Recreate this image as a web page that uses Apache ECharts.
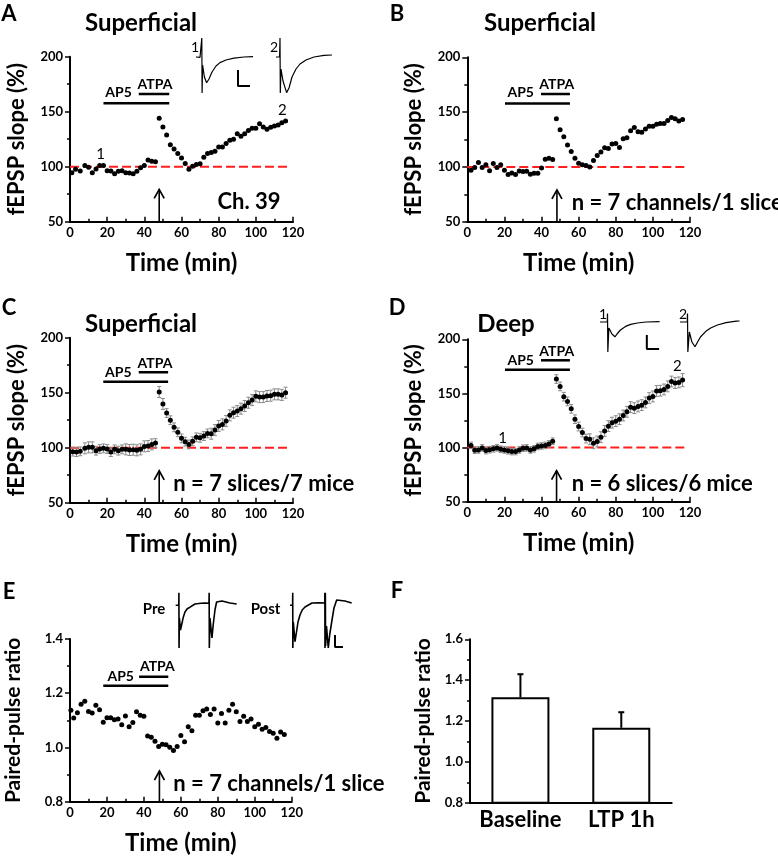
<!DOCTYPE html>
<html><head><meta charset="utf-8">
<script src="https://cdn.jsdelivr.net/npm/echarts@6/dist/echarts.min.js"></script>
<style>html,body{margin:0;padding:0;background:#fff}#c{width:778px;height:863px}</style>
</head><body><div id="c"></div>
<script>
// ---------------- DATA ----------------
const postT = [48,50,52,54,56,58,60,62,64,66,68,70,72,74,76,78,80,82,84,86,88,90,92,94,96,98,100,102,104,106,108,110,112,114,116];
const baseT_A = [1,3,5.5,8,10,12,14,16,18,20,22,24,26,28,30,32,34,36,38,40,42,44,46];
const baseT_even = [2,4,6,8,10,12,14,16,18,20,22,24,26,28,30,32,34,36,38,40,42,44,46];
const baseT_C = [1.5,3.5,5.5,8,10,12,14,16,18,20,22,24,26,28,30,32,34,36,38,40,42,44,46];
const timeE = [0.5,2,4,6,8,10,12,14,16,18,20,22,24,26,28,30,32,34,36,38,40,42,44,46,48,50,52,54,56,58,60,62,64,66,68,70,72,74,76,78,80,82,84,86,88,90,92,94,96,98,100,102,104,106,108,110,112,114,116];

const baseA = [94.5,97.6,96,101,99.4,94.5,98,101,101,96.4,96,93.6,95.8,96.4,94.5,94.2,93.6,95.8,99,101,106,105,104.5];
const postA = [144,136,128.8,120,116,112,108,103,97.6,100.3,102,102.7,108.5,112,113,114,118,118,121,124,125,130,127.6,130,133,135,135,139,136,134,135.8,137,138,140,141.5];

const baseB = [97,99.4,104,99.4,102,96.6,103,99.4,102,97,93,94.5,93,96.3,95.7,96,93.3,94.2,94.2,99,107,108,106.7];
const postB = [144,134,127.4,120,114,108,103.4,102,101.2,100,105.8,110.4,113.7,117.4,116.8,121,121.3,117.7,125.6,126.5,133,136,132,131.7,134.5,137,137,139,139.6,139.6,142.4,145,144,141.8,143.3];

const baseC = [96.4,96,96.7,99.4,100.3,100.3,97.3,98.8,99.4,98.8,96,98.5,97.3,98.5,98.5,97.9,98.2,97.6,98.5,101.2,101.5,103,104.2];
const postC = [150.6,139.7,131.5,125,118.5,114,108.5,105.5,103,105.8,109.4,109,110.6,113,112.7,116,119.7,121.2,124.2,129.4,131.8,133.3,135.5,137.9,140.9,143.3,146.7,146,146,147,147.3,148.5,148.5,148,150];
const errBaseC = [4,4,4,5,5,5,4,4,4,4,4,4,4,4,5,5,5,5,5,5,5,5,4];
const errPostC = [5,5,4,4,4,4,4,4,4,4,4,4,4,4,5,5,5,5,5,5,5,5,5,5,5,5,5,5,5,5,5,5,5,5,5];

const baseD = [102,97.5,97.8,99.7,97.2,98,98.8,99.7,98.5,97.8,97,96.3,96.3,97.8,99.4,99.7,97.8,98.8,101,101.5,102,103.4,105.9];
const postD = [163.3,156.5,147,142.6,135.8,126.2,119.4,113.9,108.3,107.7,104,105.6,109.6,115.4,119.8,123,124.4,126.2,129.6,133,137.3,136.4,138,139.2,141.7,145.7,147.2,152.2,152.5,153.7,156.5,161,159.6,160.2,162.3];
const errBaseD = [3,3,3,3,3,3,3,3,3,3,3,3,3,3,3,3,3,3,3,3,3,3,3];
const errPostD = [4,4,4,4,4,4,4,4,4,5,5,5,5,5,5,5,5,5,5,5,5,5,5,5,5,5,5,5,5,5,5,5,5,5,6];

const ppr = [1.137,1.109,1.128,1.159,1.170,1.133,1.127,1.156,1.139,1.093,1.110,1.110,1.102,1.105,1.084,1.116,1.076,1.092,1.132,1.119,1.115,1.042,1.038,1.023,1.004,1.012,1.010,1.001,0.989,1.004,1.044,1.021,1.076,1.062,1.119,1.119,1.135,1.142,1.122,1.142,1.090,1.125,1.090,1.137,1.159,1.132,1.096,1.115,1.096,1.105,1.076,1.086,1.067,1.074,1.059,1.052,1.034,1.057,1.048];

const barCats = ['Baseline','LTP 1h'];
const barVals = [1.316,1.167];
const barErr = [0.113,0.076];

// drug application bars [start, end, level] per panel
const ap5 = {A:[18,53.4,157.6], B:[20.3,55.3,157.9], C:[17.9,52.8,160], D:[20.3,55.3,171.9], E:[18,53.2,1.228]};
const atpa = {A:[37,53.4,166], B:[39.7,55.3,166.5], C:[37,52.8,168.5], D:[39.7,55.3,180.6], E:[37.4,53.2,1.261]};
const arrowT = {A:[48,50,79.4], B:[48.3,50,79], C:[48,50,79], D:[48.1,50,78.7], E:[48.4,0.8,0.913]};

// inset traces: [ms, mV]
const traceA1 = [[0,0],[1,0.03],[2,-0.02],[2.8,0],[2.9,0.95],[3.05,-1.8],[3.3,-0.4],[4.2,-1.0],[5.3,-1.29],[6.5,-1.1],[8,-0.75],[10,-0.45],[12,-0.28],[15,-0.15],[19,-0.06],[24,0],[28.5,0.02]];
const traceA2 = [[0,0],[1,0.02],[1.8,0],[2,0.95],[2.15,-1.8],[2.5,-0.6],[3.5,-1.2],[5.3,-1.78],[6.5,-1.55],[8,-1.0],[10,-0.6],[12,-0.35],[15,-0.15],[19,0.0],[24,0.08],[28,0.1]];
const traceD1 = [[0,0],[4.3,0],[4.4,0.6],[4.6,-1.5],[5.2,-0.3],[7,-0.6],[8.8,-0.74],[10,-0.6],[12,-0.4],[15,-0.22],[18,-0.12],[22,-0.05],[27,0],[35,0.02]];
const traceD2 = [[0,0],[4.3,0],[4.4,0.6],[4.6,-1.5],[5.5,-0.5],[7,-1.0],[8.8,-1.24],[10,-1.05],[12,-0.75],[15,-0.48],[18,-0.3],[22,-0.15],[27,-0.03],[33,0.04],[35,0.05]];
const tracePre = [[2.8,0.02],[8.0,0.02],[8.2,0.33],[8.4,-1.05],[9.0,-0.3],[10.8,-0.6],[13,-0.45],[15.5,-0.28],[18.3,-0.15],[22,-0.07],[26.7,-0.03],[35,0.05],[45,0.07],[51.7,0.075],[58.3,0.07],[58.6,0.33],[58.9,-1.05],[60,-0.3],[63.3,-0.8],[65.5,-0.45],[68.3,-0.1],[71,0.1],[73.3,0.15],[80,0.125],[93.3,0.075],[104.5,0.05]];
const tracePost = [[1.7,0.02],[6.0,0.02],[6.2,0.33],[6.4,-1.05],[7.2,-0.4],[10,-0.89],[12.5,-0.65],[15,-0.4],[18.3,-0.225],[22,-0.1],[26.7,-0.025],[38.3,0.075],[50,0.08],[59.6,0.075],[59.8,0.33],[60.0,-1.05],[60.6,0.33],[61,-1.0],[62.5,-0.5],[65.5,-1.05],[68,-0.7],[71.7,-0.35],[75,-0.05],[79.5,0.15],[93.3,0.125],[104.5,0.075]];
const scaleA = [[21,-0.65],[21,-1.45],[27,-1.45]];
const scaleD = [[27.5,-0.65],[27.5,-1.35],[34.7,-1.35]];
const scaleE = [[76.7,-0.725],[76.7,-1.025],[90,-1.025]];

// ---------------- CHART ----------------
const FONT = 'Lato, "Open Sans", sans-serif';
const chart = echarts.init(document.getElementById('c'), null, {renderer:'canvas'});

const grids = [
  {left:70, top:56.7, width:223, height:165},      //0 A
  {left:467.3, top:57.3, width:222.7, height:164.4},//1 B
  {left:70, top:337.7, width:223, height:165},     //2 C
  {left:467.3, top:339.3, width:222.7, height:162.4},//3 D
  {left:70, top:639, width:221.7, height:162.7},   //4 E
  {left:470, top:639.3, width:201.7, height:163.4},//5 F
  {left:196, top:38, width:58, height:56},         //6 A inset1
  {left:276, top:38, width:58, height:56},         //7 A inset2
  {left:600, top:314, width:63, height:40},        //8 D inset1
  {left:680, top:314, width:63, height:40},        //9 D inset2
  {left:174, top:592, width:64, height:58},        //10 E pre
  {left:289, top:592, width:64, height:58}         //11 E post
].map(g => Object.assign({outerBoundsMode:'none', containLabel:false}, g));

const txt = (size, weight) => ({color:'#000', fontFamily:FONT, fontWeight:weight||'bold', fontSize:size});

function xMain(gi, extra) {
  return Object.assign({
    type:'value', gridIndex:gi, min:0, max:120, interval:20,
    axisLine:{show:true, onZero:false, lineStyle:{color:'#000', width:2}},
    axisTick:{show:true, inside:true, length:5, lineStyle:{color:'#000', width:1.5}},
    minorTick:{show:true, splitNumber:2, length:3, lineStyle:{color:'#000', width:1.5}},
    axisLabel:Object.assign({margin:5}, txt(13)),
    splitLine:{show:false},
    name:'Time (min)', nameLocation:'middle', nameGap:30,
    nameTextStyle:txt(24)
  }, extra||{});
}
function yMain(gi, min, max, interval, name, nameGap, nameSize, fmt) {
  return {
    type:'value', gridIndex:gi, min:min, max:max, interval:interval,
    axisLine:{show:true, onZero:false, lineStyle:{color:'#000', width:2}},
    axisTick:{show:true, inside:false, length:5, lineStyle:{color:'#000', width:1.5}},
    minorTick:{show:true, splitNumber:2, length:3, lineStyle:{color:'#000', width:1.5}},
    axisLabel:Object.assign({margin:7, formatter:fmt}, txt(13)),
    splitLine:{show:false}, minorSplitLine:{show:false},
    name:name, nameLocation:'middle', nameGap:nameGap, nameRotate:90,
    nameTextStyle:txt(nameSize)
  };
}
function hiddenAxis(gi, min, max) { return {type:'value', gridIndex:gi, min:min, max:max, show:false}; }

const xAxes = [
  xMain(0), xMain(1), xMain(2), xMain(3), xMain(4),
  {type:'category', gridIndex:5, data:barCats,
   axisLine:{show:true, lineStyle:{color:'#000', width:2}}, axisTick:{show:false},
   axisLabel:Object.assign({margin:6, interval:0}, txt(22))},
  hiddenAxis(6,0,29), hiddenAxis(7,0,29), hiddenAxis(8,0,37), hiddenAxis(9,0,37),
  hiddenAxis(10,0,106.7), hiddenAxis(11,0,106.7)
];
const f1 = v => v.toFixed(1);
const yAxes = [
  yMain(0,50,200,50,'fEPSP slope (%)',42,22),
  yMain(1,50,200,50,'fEPSP slope (%)',42,22),
  yMain(2,50,200,50,'fEPSP slope (%)',42,22),
  yMain(3,50,200,50,'fEPSP slope (%)',42,22),
  yMain(4,0.8,1.4,0.2,'Paired-pulse ratio',46,21,f1),
  yMain(5,0.8,1.6,0.2,'Paired-pulse ratio',36,21,f1),
  hiddenAxis(6,-1.85,0.95), hiddenAxis(7,-1.85,0.95), hiddenAxis(8,-1.6,0.4), hiddenAxis(9,-1.6,0.4),
  hiddenAxis(10,-1.1,0.35), hiddenAxis(11,-1.1,0.35)
];

const series = [];
const pair = (t, v) => t.map((x,i) => [x, v[i]]);
function dots(ai, data, size) {
  series.push({type:'scatter', xAxisIndex:ai, yAxisIndex:ai, data:data, symbolSize:size||5,
    itemStyle:{color:'#000', opacity:1}, z:6, silent:true});
}
function refLine(ai, x1) {
  series.push({type:'line', xAxisIndex:ai, yAxisIndex:ai, data:[[0,100],[x1,100]], symbol:'none',
    lineStyle:{color:'#ff1f1f', width:2, type:[9,4]}, z:3, silent:true});
}
function drugBars(ai, key) {
  [ap5[key], atpa[key]].forEach(b => {
    series.push({type:'line', xAxisIndex:ai, yAxisIndex:ai, data:[[b[0],b[2]],[b[1],b[2]]], symbol:'none',
      lineStyle:{color:'#000', width:2.5}, z:4, silent:true});
  });
}
function arrow(ai, key) {
  const a = arrowT[key];
  series.push({type:'line', xAxisIndex:ai, yAxisIndex:ai, symbol:'none', showSymbol:true,
    data:[[a[0],a[1]], {value:[a[0],a[2]], symbol:'path://M0,10L5,0L10,10', symbolSize:[10,9], symbolOffset:[0,'50%'],
      itemStyle:{color:'none', borderColor:'#000', borderWidth:1.6}}],
    lineStyle:{color:'#000', width:1.6}, z:4, silent:true});
}
function errBars(ai, t, v, e) {
  series.push({type:'custom', xAxisIndex:ai, yAxisIndex:ai, z:5, silent:true,
    data:t.map((x,i) => [x, v[i]-e[i], v[i]+e[i]]),
    encode:{x:0, y:[1,2]},
    renderItem:(params, api) => {
      const lo = api.coord([api.value(0), api.value(1)]);
      const hi = api.coord([api.value(0), api.value(2)]);
      const w = 2, st = {stroke:'#8a8a8a', lineWidth:1};
      return {type:'group', children:[
        {type:'line', shape:{x1:lo[0],y1:lo[1],x2:hi[0],y2:hi[1]}, style:st},
        {type:'line', shape:{x1:lo[0]-w,y1:lo[1],x2:lo[0]+w,y2:lo[1]}, style:st},
        {type:'line', shape:{x1:hi[0]-w,y1:hi[1],x2:hi[0]+w,y2:hi[1]}, style:st}
      ]};
    }});
}
function numLabels(ai, items) {
  series.push({type:'scatter', xAxisIndex:ai, yAxisIndex:ai, symbolSize:1, itemStyle:{color:'rgba(0,0,0,0)', opacity:1}, silent:true,
    data:items.map(it => ({value:[it[0],it[1]], label:{show:true, position:'inside', formatter:it[2],
      color:'#000', fontFamily:FONT, fontSize:15, fontWeight:'normal'}})), z:7});
}
function trace(ai, data, w) {
  series.push({type:'line', xAxisIndex:ai, yAxisIndex:ai, data:data, symbol:'none',
    lineStyle:{color:'#000', width:w||1.2}, z:4, silent:true});
}

// A
refLine(0,118.3); drugBars(0,'A'); arrow(0,'A'); dots(0, pair(baseT_A, baseA).concat(pair(postT, postA)));
numLabels(0, [[16.4,111,'1'],[114.3,151.5,'2']]);
// B
refLine(1,119); drugBars(1,'B'); arrow(1,'B'); dots(1, pair(baseT_even, baseB).concat(pair(postT, postB)));
// C
refLine(2,118); drugBars(2,'C'); arrow(2,'C');
errBars(2, baseT_C.concat(postT), baseC.concat(postC), errBaseC.concat(errPostC));
dots(2, pair(baseT_C, baseC).concat(pair(postT, postC)), 5);
// D
refLine(3,119); drugBars(3,'D'); arrow(3,'D');
errBars(3, baseT_even.concat(postT), baseD.concat(postD), errBaseD.concat(errPostD));
dots(3, pair(baseT_even, baseD).concat(pair(postT, postD)), 5);
numLabels(3, [[19,109,'1'],[113.2,175,'2']]);
// E
drugBars(4,'E'); arrow(4,'E'); dots(4, pair(timeE, ppr));
// F
series.push({type:'bar', xAxisIndex:5, yAxisIndex:5, data:barVals, barWidth:58,
  itemStyle:{color:'#fff', borderColor:'#000', borderWidth:2}, silent:true, z:3});
series.push({type:'custom', xAxisIndex:5, yAxisIndex:5, z:4, silent:true,
  data:barVals.map((v,i) => [i, v, v+barErr[i]]), encode:{x:0, y:[1,2]},
  renderItem:(params, api) => {
    const lo = api.coord([api.value(0), api.value(1)]);
    const hi = api.coord([api.value(0), api.value(2)]);
    const st = {stroke:'#000', lineWidth:2};
    return {type:'group', children:[
      {type:'line', shape:{x1:lo[0],y1:lo[1],x2:hi[0],y2:hi[1]}, style:st},
      {type:'line', shape:{x1:hi[0]-3,y1:hi[1],x2:hi[0]+3,y2:hi[1]}, style:st}
    ]};
  }});
// insets
trace(6, traceA1); trace(6, scaleA, 2);
trace(7, traceA2);
trace(8, traceD1); trace(8, scaleD, 2);
trace(9, traceD2);
trace(10, tracePre, 1.6);
trace(11, tracePost, 1.6); trace(11, scaleE, 2);

// text annotations
function T(text, x, y, size, weight, align) {
  return {type:'text', x:x, y:y, silent:true, z:10,
    style:{text:text, fill:'#000', font:(weight||'bold')+' '+size+'px '+FONT,
      align:align||'center', verticalAlign:'middle'}};
}
const graphics = [
  T('A',9,14,22), T('B',397,14,22), T('C',9,308,22), T('D',397,308,22), T('E',9,592,22), T('F',397,591,22),
  T('Superficial',141,23,24), T('Superficial',540,23,24), T('Superficial',141,324,24), T('Deep',506,324,24),
  T('AP5',118.5,92.5,14), T('ATPA',155,84,14),
  T('AP5',520.7,92.7,14), T('ATPA',556.7,84,14),
  T('AP5',118.3,372.3,14), T('ATPA',155,363.3,14),
  T('AP5',520.7,360.7,14), T('ATPA',556.7,351.7,14),
  T('AP5',120.7,676.7,14), T('ATPA',157.3,666,14),
  T('Ch. 39',249,202,22),
  T('n = 7 channels/1 slice',571.7,203,22,'bold','left'),
  T('n = 7 slices/7 mice',173.3,484,22,'bold','left'),
  T('n = 6 slices/6 mice',571.7,484,22,'bold','left'),
  T('n = 7 channels/1 slice',173.3,784,22,'bold','left'),
  T('1',195,47,14,'normal'), T('2',274,47,14,'normal'),
  T('1',603,314,14,'normal'), T('2',683,314,14,'normal'),
  T('Pre',154,609,15), T('Post',265.5,609,15)
];

chart.setOption({
  animation:false,
  backgroundColor:'#fff',
  grid:grids, xAxis:xAxes, yAxis:yAxes, series:series, graphic:graphics
});
</script></body></html>
